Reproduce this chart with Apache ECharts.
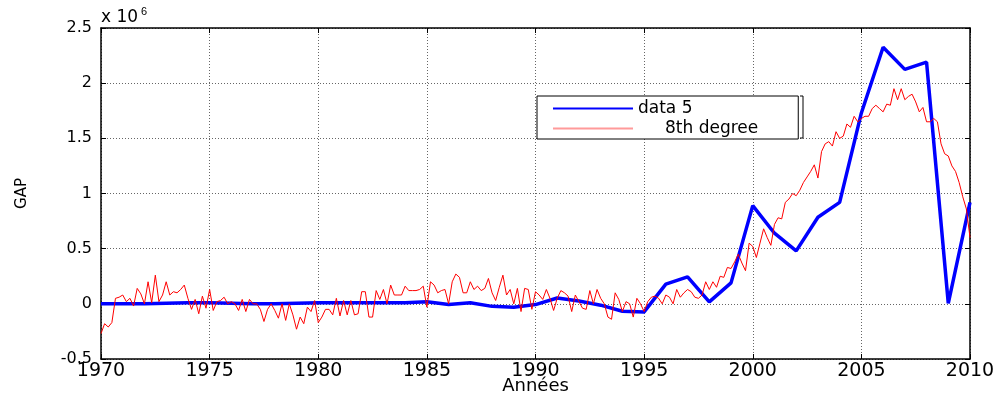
<!DOCTYPE html>
<html>
<head>
<meta charset="utf-8">
<script src="https://cdn.jsdelivr.net/npm/echarts@6/dist/echarts.min.js"></script>
<style>
  html, body { margin: 0; padding: 0; background: #fff; }
  #main { width: 1000px; height: 398px; }
</style>
</head>
<body>
<div id="main"></div>
<script>
// blue series: yearly values (x 10^6)
var blueYears = [1970,1971,1972,1973,1974,1975,1976,1977,1978,1979,
                 1980,1981,1982,1983,1984,1985,1986,1987,1988,1989,
                 1990,1991,1992,1993,1994,1995,1996,1997,1998,1999,
                 2000,2001,2002,2003,2004,2005,2006,2007,2008,2009,2010];
var blueValues = [0.0,0.0,0.0,0.005,0.01,0.01,0.005,0.0,0.0,0.005,
                  0.01,0.01,0.01,0.01,0.01,0.018,-0.007,0.01,-0.023,-0.03,
                  -0.007,0.053,0.025,-0.012,-0.067,-0.073,0.178,0.245,0.018,0.19,
                  0.89,0.64,0.48,0.785,0.92,1.73,2.325,2.125,2.19,0.005,0.92];

// red series: 6 samples per year from 1970 to 2010
var redStart = 1970;
var redPerYear = 6;
var redValues = [
  -0.27,-0.18,-0.21,-0.17,0.05,0.06,
  0.08,0.02,0.05,-0.02,0.14,0.09,
  0.00,0.20,0.01,0.26,0.02,0.08,
  0.20,0.08,0.11,0.10,0.13,0.17,
  0.05,-0.05,0.04,-0.09,0.07,-0.04,
  0.13,-0.06,0.02,0.03,0.06,0.00,
  0.02,0.00,-0.06,0.04,-0.07,0.04,
  0.00,0.00,-0.05,-0.16,-0.05,0.00,
  -0.06,-0.13,0.00,-0.15,0.00,-0.10,
  -0.23,-0.12,-0.18,-0.03,-0.07,0.03,
  -0.17,-0.12,-0.05,-0.05,-0.10,0.05,
  -0.11,0.03,-0.10,0.03,-0.10,-0.09,
  0.11,0.11,-0.12,-0.12,0.12,0.04,
  0.13,0.00,0.17,0.08,0.08,0.08,
  0.16,0.12,0.12,0.12,0.13,0.16,
  -0.03,0.20,0.17,0.10,0.12,0.13,
  0.00,0.20,0.27,0.24,0.10,0.10,
  0.20,0.13,0.16,0.12,0.14,0.23,
  0.10,0.03,0.15,0.26,0.08,0.13,
  0.00,0.14,-0.07,0.14,0.13,-0.05,
  0.11,0.08,0.04,0.13,0.05,-0.06,
  0.05,0.12,0.10,0.07,-0.07,0.08,
  0.02,-0.04,-0.05,0.12,0.00,0.13,
  0.05,0.00,-0.12,-0.14,0.10,0.04,
  -0.07,0.02,0.00,-0.12,0.05,0.00,
  -0.07,0.02,0.06,0.07,0.05,0.00,
  0.08,0.06,0.00,0.13,0.06,0.10,
  0.13,0.11,0.06,0.05,0.08,0.20,
  0.13,0.20,0.15,0.25,0.24,0.33,
  0.32,0.38,0.45,0.37,0.30,0.55,
  0.52,0.42,0.55,0.68,0.60,0.53,
  0.72,0.78,0.77,0.92,0.95,1.00,
  0.98,1.03,1.10,1.15,1.20,1.26,
  1.14,1.38,1.45,1.47,1.43,1.56,
  1.50,1.52,1.63,1.60,1.70,1.65,
  1.68,1.70,1.70,1.77,1.80,1.77,
  1.74,1.81,1.80,1.95,1.85,1.95,
  1.85,1.88,1.90,1.83,1.74,1.78,
  1.65,1.65,1.68,1.65,1.45,1.36,
  1.34,1.25,1.20,1.10,0.97,0.86,
  0.60
];

var blueName = 'data 5';
var redName = '     8th degree';

var blueData = [];
for (var i = 0; i < blueYears.length; i++) {
  blueData.push([blueYears[i], blueValues[i]]);
}
var redData = [];
for (var j = 0; j < redValues.length; j++) {
  redData.push([redStart + j / redPerYear, redValues[j]]);
}

var font = 'DejaVu Sans';
var gridLine = { show: true, lineStyle: { color: '#666', type: [1, 2], width: 1 } };
var blackLine = { show: true, onZero: false, lineStyle: { color: '#000', width: 1.5 } };
var ticksIn = { show: true, inside: true, length: 5, lineStyle: { color: '#000' } };

var myChart = echarts.init(document.getElementById('main'));
var opt = {
  animation: false,
  backgroundColor: '#fff',
  grid: {
    left: 101, right: 30, top: 28, bottom: 39,
    outerBoundsMode: 'none'
  },
  legend: {
    orient: 'vertical',
    left: 537,
    top: 96,
    padding: [4, 40, 2, 16],
    itemWidth: 80,
    itemHeight: 2,
    itemGap: 3,
    borderColor: '#000',
    borderWidth: 1,
    borderRadius: 0,
    backgroundColor: '#fff',
    textStyle: { fontFamily: font, fontSize: 17, color: '#000', lineHeight: 15 },
    data: [
      { name: blueName, icon: 'rect', itemStyle: { color: '#0000ff' } },
      { name: redName, icon: 'rect', itemStyle: { color: '#ff9a9a' } }
    ]
  },
  xAxis: [
    {
      type: 'value',
      min: 1970, max: 2010, interval: 5,
      axisLine: blackLine,
      axisTick: ticksIn,
      splitLine: gridLine,
      axisLabel: {
        color: '#000', fontFamily: font, fontSize: 19, margin: 3,
        formatter: function (v) { return String(v); }
      },
      name: 'Années',
      nameLocation: 'middle',
      nameGap: 18,
      nameMoveOverlap: false,
      nameTextStyle: { color: '#000', fontFamily: font, fontSize: 18 }
    },
    {
      type: 'value', position: 'top',
      min: 1970, max: 2010, interval: 5,
      axisLine: blackLine,
      axisTick: ticksIn,
      splitLine: { show: false },
      axisLabel: { show: false }
    }
  ],
  yAxis: [
    {
      type: 'value',
      min: -0.5, max: 2.5, interval: 0.5,
      axisLine: blackLine,
      axisTick: ticksIn,
      splitLine: gridLine,
      axisLabel: { color: '#000', fontFamily: font, fontSize: 16, margin: 9 },
      name: 'GAP',
      nameLocation: 'middle',
      nameGap: 71,
      nameRotate: 90,
      nameMoveOverlap: false,
      nameTextStyle: { color: '#000', fontFamily: font, fontSize: 15 }
    },
    {
      type: 'value', position: 'right',
      min: -0.5, max: 2.5, interval: 0.5,
      axisLine: blackLine,
      axisTick: ticksIn,
      splitLine: { show: false },
      axisLabel: { show: false }
    }
  ],
  graphic: [
    {
      type: 'text',
      left: 101,
      top: 6,
      style: {
        text: 'x 10{s|6}',
        fontFamily: font,
        fontSize: 17,
        fill: '#000',
        rich: { s: { fontSize: 11, verticalAlign: 'top', padding: [0, 0, 12, 3] } }
      }
    },
    {
      // little bracket drawn next to the legend box, as in the original
      type: 'polyline',
      shape: { points: [[800, 96], [803, 96], [803, 138], [800, 138]] },
      style: { stroke: '#000', lineWidth: 1, fill: null },
      z: 100
    }
  ],
  series: [
    {
      name: blueName,
      type: 'line',
      symbol: 'none',
      data: blueData,
      lineStyle: { color: '#0000ff', width: 3.5 },
      itemStyle: { color: '#0000ff' },
      z: 2
    },
    {
      name: redName,
      type: 'line',
      symbol: 'none',
      data: redData,
      lineStyle: { color: '#ff0000', width: 1 },
      itemStyle: { color: '#ff0000' },
      z: 3
    }
  ]
};
myChart.setOption(opt);
</script>
</body>
</html>
